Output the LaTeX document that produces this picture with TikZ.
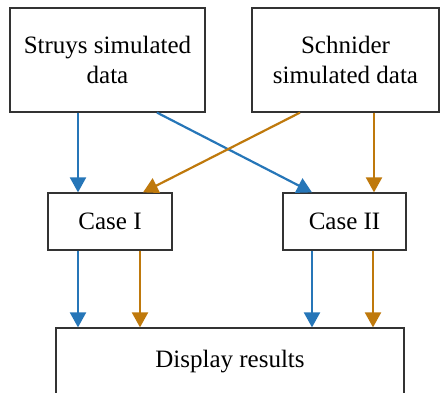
\documentclass[tikz,border=0pt]{standalone}
\usepackage{fontspec}
\setmainfont{Liberation Serif}
\usetikzlibrary{arrows.meta}
\definecolor{flowblue}{HTML}{2676B8}
\definecolor{floworange}{HTML}{BF790C}
\definecolor{boxline}{HTML}{333333}
\tikzset{
  box/.style={draw=boxline, line width=1.2pt, align=center, inner sep=0pt,
    font=\fontsize{25}{30}\selectfont},
  flow/.style={line width=2.2pt, -{Triangle[length=15pt,width=16pt]}},
  fb/.style={flow, draw=flowblue, fill=flowblue},
  fo/.style={flow, draw=floworange, fill=floworange},
}
\begin{document}
\begin{tikzpicture}[x=1pt,y=-1pt]
\useasboundingbox (0,0) rectangle (440,393);
\clip (0,0) rectangle (440,393);
% source boxes
\node[box, minimum width=195pt, minimum height=104pt] (struys) at (107.5,60) {Struys simulated\\data};
\node[box, minimum width=187pt, minimum height=104pt] (schnider) at (345.5,60) {Schnider\\simulated data};
% cases
\node[box, minimum width=124pt, minimum height=57pt] (caseI) at (110,221.5) {Case I};
\node[box, minimum width=123pt, minimum height=57pt] (caseII) at (344.5,221.5) {Case II};
% results (runs past the lower edge)
\node[box, minimum width=348pt, minimum height=68pt] (display) at (230,362) {Display results};
% connectors into the cases
\draw[fb] ([xshift=-29.5pt]struys.south) -- ([xshift=-32pt]caseI.north);
\draw[fb] ([xshift=49.5pt]struys.south) -- ([xshift=-32.5pt]caseII.north);
\draw[fo] ([xshift=-45.5pt]schnider.south) -- ([xshift=33pt]caseI.north);
\draw[fo] ([xshift=28.5pt]schnider.south) -- ([xshift=29.5pt]caseII.north);
% connectors into the results
\draw[fb] ([xshift=-32pt]caseI.south) -- ([xshift=-152pt]display.north);
\draw[fo] ([xshift=30pt]caseI.south) -- ([xshift=-90pt]display.north);
\draw[fb] ([xshift=-32.5pt]caseII.south) -- ([xshift=82pt]display.north);
\draw[fo] ([xshift=28.5pt]caseII.south) -- ([xshift=143pt]display.north);
\end{tikzpicture}
\end{document}
